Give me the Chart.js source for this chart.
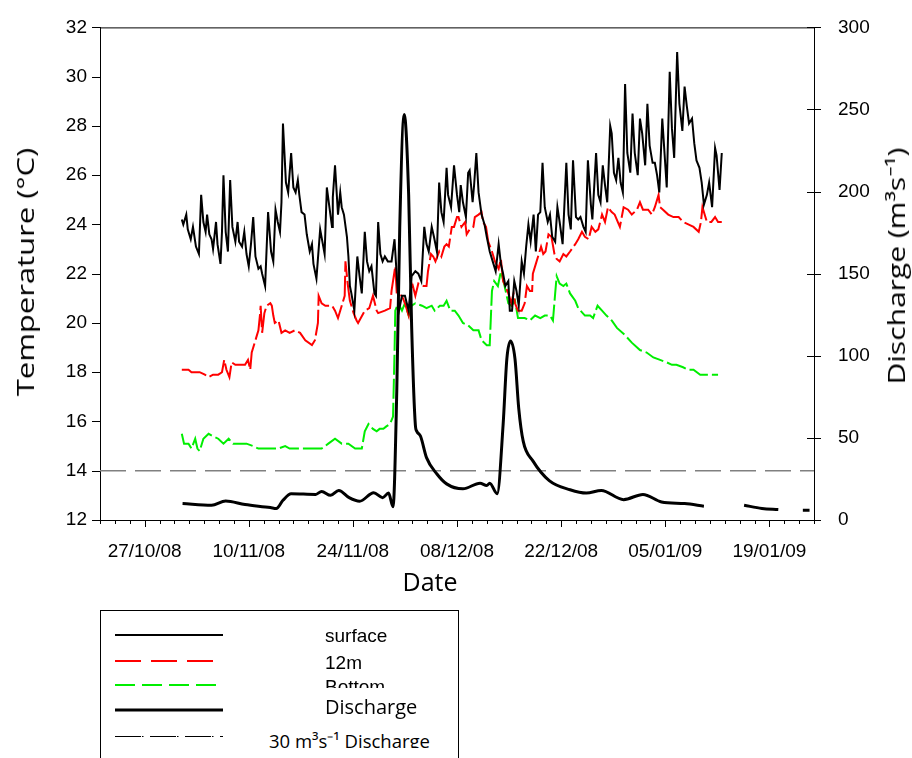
<!DOCTYPE html>
<html>
<head>
    <title>Temperature and discharge</title>
    <meta charset="utf-8">
    <style>
        body { margin: 0; background: #fff; width: 912px; height: 758px; position: relative; overflow: hidden; }
        #chartBox { position: absolute; left: 0; top: 0; width: 912px; height: 600px; }
        .axtitle { position: absolute; font-family: "Open Sans", sans-serif; font-size: 24px; color: #000; white-space: nowrap; line-height: 1; }
        #legend { position: absolute; left: 100px; top: 610px; width: 357px; height: 160px; border: 1px solid #000; border-bottom: none; overflow: hidden; }
        #legend svg { position: absolute; left: 0; top: 0; }
        .lg { position: absolute; white-space: nowrap; line-height: 1; color: #000; }
        .arial { font-family: "Liberation Sans", Arial, sans-serif; font-size: 19px; }
        .calibri { font-family: "Open Sans", sans-serif; font-size: 20px; }
    </style>
</head>
<body>
    <div id="chartBox"><canvas id="tempChart" width="912" height="600"></canvas></div>

    <div class="axtitle" id="ytitle" style="left:25px; top:272px; transform: translate(-50%, -50%) rotate(-90deg) scaleX(1.29);">Temperature (°C)</div>
    <div class="axtitle" id="y2title" style="left:896px; top:266px; transform: translate(-50%, -50%) rotate(-90deg) scaleX(1.25);">Discharge (m³s⁻¹)</div>
    <div class="axtitle" id="xtitle" style="left:430px; top:581px; transform: translate(-50%, -50%); font-size: 25px;">Date</div>

    <div id="legend">
        <svg width="357" height="160">
            <line x1="14" y1="24" x2="122" y2="24" stroke="#000" stroke-width="2"/>
            <line x1="14" y1="50" x2="122" y2="50" stroke="#ff0000" stroke-width="2" stroke-dasharray="26 10"/>
            <line x1="14" y1="74" x2="122" y2="74" stroke="#00ee00" stroke-width="2" stroke-dasharray="20 7"/>
            <line x1="14" y1="99" x2="122" y2="99" stroke="#000" stroke-width="3"/>
            <line x1="14" y1="125.5" x2="122" y2="125.5" stroke="#000" stroke-width="1" stroke-dasharray="26 1 1.5 6.5"/>
        </svg>
        <div class="lg arial" style="left:224px; top:15px;">surface</div>
        <div class="lg arial" style="left:224px; top:42px;">12m</div>
        <div class="lg arial" style="left:224px; top:66px; height:11px; overflow:hidden;">Bottom</div>
        <div class="lg calibri" style="left:224px; top:86px;">Discharge</div>
        <div class="lg calibri" style="left:168px; top:121px; height:16px; overflow:hidden; font-size:18.5px;">30 m³s⁻¹ Discharge</div>
    </div>

    <script src="https://cdn.jsdelivr.net/npm/chart.js"></script>
    <script>
        // day 0 = 21/10/08, x axis runs 96 days
        var startDate = new Date(2008, 9, 21);
        var xMax = 96;
        var labelEvery = 14;
        var firstLabelDay = 6;

        var tempTicks = [12, 32, 2];        // min, max, step
        var flowTicks = [0, 300, 50];
        var flowThreshold = 30;             // 30 m3 s-1 line

        // surface temperature
        var surfaceDay = [11.0, 11.2, 11.6, 11.8, 12.2, 12.5, 12.9, 13.3, 13.6, 13.9, 14.2, 14.4, 14.7, 15.0, 15.2, 15.6, 15.8, 16.2, 16.4, 16.6,
            16.9, 17.2, 17.5, 17.8, 18.2, 18.5, 18.7, 19.1, 19.4, 19.7, 20.0, 20.3, 20.6, 20.9, 21.3, 21.6, 21.8, 22.2, 22.6, 23.0,
            23.3, 23.6, 23.9, 24.2, 24.4, 24.6, 25.0, 25.3, 25.7, 26.0, 26.3, 26.6, 26.8, 27.1, 27.5, 27.8, 28.2, 28.5, 28.7, 29.1,
            29.6, 29.9, 30.2, 30.5, 30.8, 31.2, 31.3, 31.6, 31.9, 32.0, 32.3, 32.5, 32.8, 33.2, 33.4, 33.6, 33.8, 34.2, 34.6, 34.9,
            35.2, 35.6, 35.9, 36.2, 36.5, 36.9, 37.1, 37.4, 37.7, 38.0, 38.3, 38.7, 39.2, 39.6, 39.8, 40.2, 40.6, 41.0, 41.5, 41.9,
            42.4, 42.8, 43.2, 43.6, 43.9, 44.2, 44.6, 44.9, 45.3, 45.6, 45.9, 46.2, 46.6, 46.8, 47.2, 47.6, 48.0, 48.3, 48.5, 48.8,
            49.2, 49.5, 49.7, 50.1, 50.3, 50.6, 50.9, 51.3, 51.7, 52.0, 52.4, 52.8, 53.2, 53.6, 53.9, 54.2, 54.5, 54.9, 55.1, 55.4,
            55.7, 56.0, 56.3, 56.7, 57.0, 57.3, 57.6, 57.9, 58.3, 58.6, 58.9, 59.2, 59.5, 59.8, 60.2, 60.5, 60.8, 61.2, 61.5, 61.8,
            62.2, 62.7, 63.0, 63.3, 63.6, 64.0, 64.3, 64.6, 65.0, 65.3, 65.6, 66.0, 66.2, 66.7, 67.0, 67.3, 67.6, 67.9, 68.2, 68.6,
            68.8, 69.1, 69.4, 69.7, 70.0, 70.3, 70.6, 70.9, 71.3, 71.6, 71.9, 72.3, 72.6, 72.9, 73.3, 73.6, 73.9, 74.3, 74.6, 74.9,
            75.2, 75.6, 75.9, 76.2, 76.6, 76.9, 77.2, 77.6, 77.9, 78.3, 78.6, 78.9, 79.2, 79.6, 79.9, 80.2, 80.6, 80.9, 81.2, 81.6,
            81.9, 82.3, 82.7, 82.9, 83.3, 83.6];
        var surfaceTemp = [24.2, 24.0, 24.4, 23.8, 23.4, 23.9, 23.1, 22.8, 25.2, 24.1, 23.7, 24.4, 23.6, 23.4, 23.0, 24.1, 23.2, 22.4, 23.7, 26.0,
            23.7, 22.9, 25.8, 23.9, 23.3, 24.1, 23.3, 23.1, 23.7, 22.8, 22.3, 23.2, 24.3, 22.7, 22.2, 22.3, 22.0, 21.5, 24.5, 22.9,
            22.5, 24.6, 24.1, 23.7, 24.9, 28.1, 25.7, 25.3, 26.9, 25.5, 25.3, 25.8, 25.2, 24.5, 24.4, 23.6, 22.9, 23.2, 22.4, 21.8,
            23.8, 23.3, 22.8, 25.5, 24.8, 23.9, 25.1, 26.4, 24.9, 24.4, 25.3, 24.7, 24.4, 23.5, 22.7, 21.5, 21.2, 20.5, 22.7, 21.9,
            21.2, 23.7, 22.5, 22.1, 22.3, 21.2, 21.1, 24.1, 22.8, 22.5, 22.7, 22.5, 22.5, 23.4, 22.4, 20.5, 21.1, 21.1, 20.5, 21.9,
            22.1, 22.0, 21.7, 23.9, 23.2, 22.9, 23.9, 23.5, 22.9, 25.7, 24.5, 24.1, 26.3, 25.2, 24.7, 26.4, 25.2, 24.5, 25.6, 24.9,
            24.3, 26.1, 26.2, 24.9, 25.6, 26.9, 25.3, 24.4, 24.0, 23.5, 22.9, 22.5, 22.1, 23.2, 22.4, 22.0, 21.5, 21.7, 20.5, 20.5,
            21.7, 21.3, 20.7, 22.5, 22.0, 23.1, 24.0, 23.3, 24.4, 22.9, 24.4, 24.5, 26.5, 24.7, 24.1, 24.4, 23.5, 23.3, 24.7, 24.1,
            23.2, 26.5, 24.4, 23.8, 26.6, 24.3, 24.2, 24.3, 23.9, 23.7, 26.6, 24.8, 24.2, 26.9, 25.2, 24.9, 26.4, 25.6, 24.9, 28.0,
            27.7, 26.1, 25.8, 26.7, 25.7, 25.3, 29.7, 26.9, 26.1, 28.5, 26.9, 26.0, 28.3, 27.7, 26.4, 28.9, 27.2, 26.5, 26.5, 26.0,
            25.3, 28.3, 26.9, 25.5, 30.2, 27.9, 26.7, 31.0, 28.9, 27.8, 29.6, 28.8, 28.1, 28.3, 27.3, 26.6, 26.3, 25.7, 24.8, 25.2,
            25.7, 24.7, 27.1, 26.8, 25.4, 26.9];

        // 12 m temperature
        var midDay = [11.0, 11.9, 12.3, 13.4, 14.1, 14.6, 15.2, 15.9, 16.4, 16.7, 17.0, 17.4, 17.7, 18.2, 18.8, 19.5, 19.9, 20.2, 20.4, 20.8,
            21.3, 21.5, 21.6, 21.8, 22.1, 22.4, 22.9, 23.1, 23.3, 23.5, 24.0, 24.4, 24.9, 25.5, 26.2, 26.9, 27.6, 28.5, 28.9, 29.3,
            29.4, 29.8, 30.3, 30.7, 31.2, 31.6, 32.0, 32.5, 32.9, 33.0, 33.3, 33.6, 34.1, 34.5, 34.7, 35.6, 36.2, 36.7, 37.2, 37.4,
            38.3, 39.0, 39.2, 39.7, 39.9, 40.6, 41.0, 41.5, 41.9, 42.4, 42.8, 43.5, 43.9, 44.1, 44.5, 44.8, 45.1, 45.6, 45.9, 46.3,
            46.6, 46.9, 47.3, 47.6, 48.0, 48.2, 48.6, 49.1, 49.3, 49.7, 50.2, 50.4, 50.9, 51.3, 51.5, 51.9, 52.2, 52.7, 53.1, 53.6,
            53.9, 54.2, 54.5, 54.9, 55.3, 55.6, 55.8, 56.2, 56.7, 57.1, 57.4, 57.8, 58.1, 58.2, 58.6, 58.9, 59.3, 59.6, 59.9, 60.3,
            60.7, 61.1, 61.4, 61.8, 62.3, 62.7, 63.2, 63.9, 64.3, 64.8, 65.2, 65.7, 66.1, 66.6, 67.0, 67.5, 67.9, 68.3, 68.8, 69.2,
            69.9, 70.4, 71.0, 71.5, 72.2, 72.6, 73.0, 73.7, 74.2, 74.6, 75.1, 75.3, 75.7, 76.4, 77.1, 77.8, 78.4, 79.1, 79.8, 80.5,
            80.8, 81.0, 81.6, 82.2, 82.7, 83.1, 83.6];
        var midTemp = [18.1, 18.1, 18.0, 18.0, 17.9, 17.8, 17.9, 17.9, 18.0, 18.5, 18.1, 17.8, 18.4, 18.3, 18.3, 18.3, 18.5, 18.1, 18.8, 19.2,
            19.7, 20.3, 20.7, 19.6, 20.4, 20.7, 20.8, 20.7, 20.3, 20.0, 20.1, 19.6, 19.7, 19.6, 19.7, 19.6, 19.3, 19.1, 19.3, 20.0,
            21.1, 20.8, 20.7, 20.7, 20.7, 20.5, 20.2, 20.7, 21.1, 22.5, 21.6, 20.9, 20.4, 20.1, 20.0, 20.5, 20.6, 21.1, 20.5, 20.4,
            20.5, 20.6, 21.3, 22.3, 21.2, 21.1, 20.8, 20.3, 21.7, 21.1, 21.6, 21.5, 21.5, 22.1, 22.8, 22.7, 22.5, 22.9, 22.7, 23.1,
            23.2, 23.1, 23.9, 23.9, 24.3, 24.3, 23.9, 24.1, 23.6, 23.8, 23.9, 24.3, 24.4, 24.5, 24.1, 23.9, 23.3, 22.9, 22.5, 22.2,
            22.6, 21.7, 21.5, 21.2, 20.8, 21.2, 20.8, 20.5, 20.5, 20.8, 21.5, 21.3, 21.3, 22.0, 22.4, 22.7, 23.1, 22.8, 22.9, 23.6,
            23.5, 22.8, 22.6, 22.5, 22.8, 22.7, 22.9, 23.2, 23.4, 23.7, 23.5, 23.4, 23.9, 23.7, 23.8, 24.4, 24.1, 24.7, 24.5, 24.4,
            23.9, 24.7, 24.6, 24.4, 24.6, 24.9, 24.6, 24.6, 24.4, 24.7, 25.2, 24.7, 24.6, 24.4, 24.3, 24.3, 24.1, 24.0, 23.9, 23.7,
            24.1, 24.7, 24.1, 24.1, 24.3, 24.1, 24.1];

        // bottom temperature
        var bottomDay = [11.0, 11.3, 11.9, 12.3, 12.8, 13.1, 13.4, 13.9, 14.6, 15.2, 15.9, 16.6, 17.3, 17.9, 18.8, 19.7, 20.6, 21.3, 22.2, 23.1,
            24.0, 24.9, 25.5, 26.2, 27.1, 28.0, 28.9, 29.8, 30.7, 31.6, 32.5, 33.4, 34.3, 35.2, 35.6, 36.1, 36.7, 37.2, 37.6, 38.1,
            38.5, 39.0, 39.4, 39.6, 39.7, 40.1, 40.6, 41.0, 41.5, 41.9, 42.4, 43.3, 43.9, 44.6, 45.0, 45.7, 46.2, 46.6, 47.1, 47.7,
            48.2, 48.8, 49.5, 50.2, 50.9, 51.3, 52.0, 52.4, 52.7, 53.0, 53.5, 53.9, 54.4, 54.9, 55.3, 55.8, 56.2, 57.1, 57.8, 58.5,
            59.2, 59.8, 60.5, 60.9, 61.2, 61.4, 61.8, 62.3, 62.7, 63.2, 63.9, 64.3, 65.2, 65.9, 66.3, 66.9, 67.5, 68.1, 68.8, 69.5,
            70.6, 71.5, 72.6, 73.5, 74.4, 75.3, 76.2, 76.9, 77.5, 78.4, 79.1, 79.8, 80.7, 82.1, 83.1];
        var bottomTemp = [15.5, 15.1, 15.1, 14.9, 15.3, 14.9, 14.8, 15.3, 15.5, 15.4, 15.3, 15.1, 15.3, 15.1, 15.1, 15.1, 15.0, 14.9, 14.9, 14.9,
            14.9, 15.0, 14.9, 14.9, 14.9, 14.9, 14.9, 14.9, 15.1, 15.3, 15.1, 15.1, 14.9, 14.9, 15.6, 15.9, 15.7, 15.6, 15.7, 15.7,
            15.8, 15.9, 16.2, 18.8, 20.5, 20.8, 20.5, 20.8, 20.3, 20.7, 20.8, 20.7, 20.6, 20.7, 20.5, 20.7, 20.7, 20.9, 20.5, 20.5,
            20.3, 20.0, 19.9, 19.7, 19.7, 19.3, 19.1, 19.1, 21.3, 21.7, 21.5, 22.1, 21.5, 20.8, 20.7, 20.9, 20.2, 20.2, 20.1, 20.3,
            20.2, 20.3, 20.3, 20.1, 21.2, 21.9, 21.6, 21.5, 21.6, 21.2, 20.9, 20.6, 20.3, 20.3, 20.2, 20.7, 20.5, 20.3, 20.1, 19.8,
            19.5, 19.2, 18.9, 18.8, 18.6, 18.5, 18.4, 18.3, 18.3, 18.2, 18.1, 18.1, 17.9, 17.9, 17.9];

        // discharge (null = no record)
        var dischargeDay = [11.1, 15.0, 16.9, 19.5, 22.9, 23.7, 24.6, 25.7, 29.0, 29.8, 31.0, 32.1, 33.5, 34.9, 36.8, 38.0, 38.8, 39.4, 39.9, 40.3,
            40.9, 41.5, 41.9, 42.4, 42.6, 43.1, 43.9, 45.3, 46.6, 48.8, 51.1, 52.0, 52.4, 53.4, 54.2, 54.7, 55.2, 55.8, 56.3, 56.9,
            58.2, 60.4, 63.2, 65.4, 67.4, 70.4, 73.0, 75.5, 78.6, 81.2, 84.0, 86.6, 89.0, 91.2, 93.0, 94.5, 95.4];
        var dischargeFlow = [10.0, 9.0, 11.6, 9.4, 7.6, 7.0, 12, 16, 15.6, 17.4, 15, 18, 13.6, 11.4, 16.6, 13.6, 16.4, 8, 78, 178,
            247, 198, 118, 58, 54, 51, 38, 28, 22, 19, 22.4, 21, 22.4, 16, 58, 98, 109, 98, 68, 48,
            36, 24, 18.4, 16.4, 18, 12.4, 15.6, 11, 10, 8.4, null, 9, 7, 6.4, null, 6, 6];

        function pairs(xs, ys) {
            return xs.map(function (x, i) { return { x: x, y: ys[i] }; });
        }

        function dayLabel(v) {
            if ((v - firstLabelDay) % labelEvery !== 0) return '';
            var d = new Date(startDate.getFullYear(), startDate.getMonth(), startDate.getDate() + v);
            return String(d.getDate()).padStart(2, '0') + '/' + String(d.getMonth() + 1).padStart(2, '0') + '/' + String(d.getFullYear()).slice(2);
        }

        // tick marks and the top frame line
        var frameTicks = {
            id: 'frameTicks',
            afterDraw: function (chart) {
                var ctx = chart.ctx;
                var a = chart.chartArea;
                var sx = chart.scales.x, sy = chart.scales.y, sy2 = chart.scales.y2;
                ctx.save();
                ctx.strokeStyle = '#000';
                ctx.lineWidth = 1;
                ctx.beginPath();
                ctx.moveTo(a.left, a.top + 0.5);
                ctx.lineTo(a.right, a.top + 0.5);
                sx.ticks.forEach(function (t) {
                    var px = Math.round(sx.getPixelForValue(t.value)) + 0.5;
                    var len = dayLabel(t.value) ? 7 : 4;
                    ctx.moveTo(px, a.bottom);
                    ctx.lineTo(px, a.bottom + len);
                });
                sy.ticks.forEach(function (t) {
                    var py = Math.round(sy.getPixelForValue(t.value)) + 0.5;
                    ctx.moveTo(a.left - 8, py);
                    ctx.lineTo(a.left, py);
                });
                sy2.ticks.forEach(function (t) {
                    var py = Math.round(sy2.getPixelForValue(t.value)) + 0.5;
                    ctx.moveTo(a.right - 7, py);
                    ctx.lineTo(a.right + 7, py);
                });
                ctx.stroke();
                ctx.restore();
            }
        };

        var tickFont = { family: '"Liberation Sans", Arial, sans-serif', size: 19 };

        new Chart(document.getElementById('tempChart').getContext('2d'), {
            type: 'line',
            data: {
                datasets: [
                    {
                        label: 'Discharge',
                        data: pairs(dischargeDay, dischargeFlow),
                        yAxisID: 'y2',
                        borderColor: '#000',
                        borderWidth: 3,
                        pointRadius: 0,
                        cubicInterpolationMode: 'monotone',
                        spanGaps: false
                    },
                    {
                        label: 'surface',
                        data: pairs(surfaceDay, surfaceTemp),
                        yAxisID: 'y',
                        borderColor: '#000',
                        borderWidth: 2,
                        pointRadius: 0,
                        tension: 0
                    },
                    {
                        label: '12m',
                        data: pairs(midDay, midTemp),
                        yAxisID: 'y',
                        borderColor: '#ff0000',
                        borderWidth: 2,
                        borderDash: [26, 4],
                        pointRadius: 0,
                        tension: 0
                    },
                    {
                        label: 'Bottom',
                        data: pairs(bottomDay, bottomTemp),
                        yAxisID: 'y',
                        borderColor: '#00ee00',
                        borderWidth: 2,
                        borderDash: [20, 4],
                        pointRadius: 0,
                        tension: 0
                    },
                    {
                        label: '30 m3s-1 Discharge',
                        data: [{ x: 0, y: flowThreshold }, { x: xMax, y: flowThreshold }],
                        yAxisID: 'y2',
                        borderColor: '#808080',
                        borderWidth: 1.3,
                        borderDash: [26, 9],
                        pointRadius: 0
                    }
                ]
            },
            options: {
                responsive: false,
                animation: false,
                devicePixelRatio: 1,
                layout: { padding: { top: 20, left: 0, right: 0, bottom: 0 } },
                plugins: { legend: { display: false }, tooltip: { enabled: false } },
                scales: {
                    x: {
                        type: 'linear',
                        min: 0,
                        max: xMax,
                        grid: { display: false },
                        border: { display: true, color: '#000', width: 1 },
                        ticks: { stepSize: 2, autoSkip: false, maxRotation: 0, padding: 12, color: '#000', font: tickFont, callback: dayLabel },
                        afterFit: function (s) { s.height = 80; }
                    },
                    y: {
                        position: 'left',
                        min: tempTicks[0],
                        max: tempTicks[1],
                        grid: { display: false },
                        border: { display: true, color: '#000', width: 1 },
                        ticks: { stepSize: tempTicks[2], padding: 5, color: '#000', font: tickFont },
                        afterFit: function (s) { s.width = 100; }
                    },
                    y2: {
                        position: 'right',
                        min: flowTicks[0],
                        max: flowTicks[1],
                        grid: { display: false },
                        border: { display: true, color: '#000', width: 1 },
                        ticks: { stepSize: flowTicks[2], padding: 16, color: '#000', font: tickFont },
                        afterFit: function (s) { s.width = 98; }
                    }
                }
            },
            plugins: [frameTicks]
        });
    </script>
</body>
</html>
